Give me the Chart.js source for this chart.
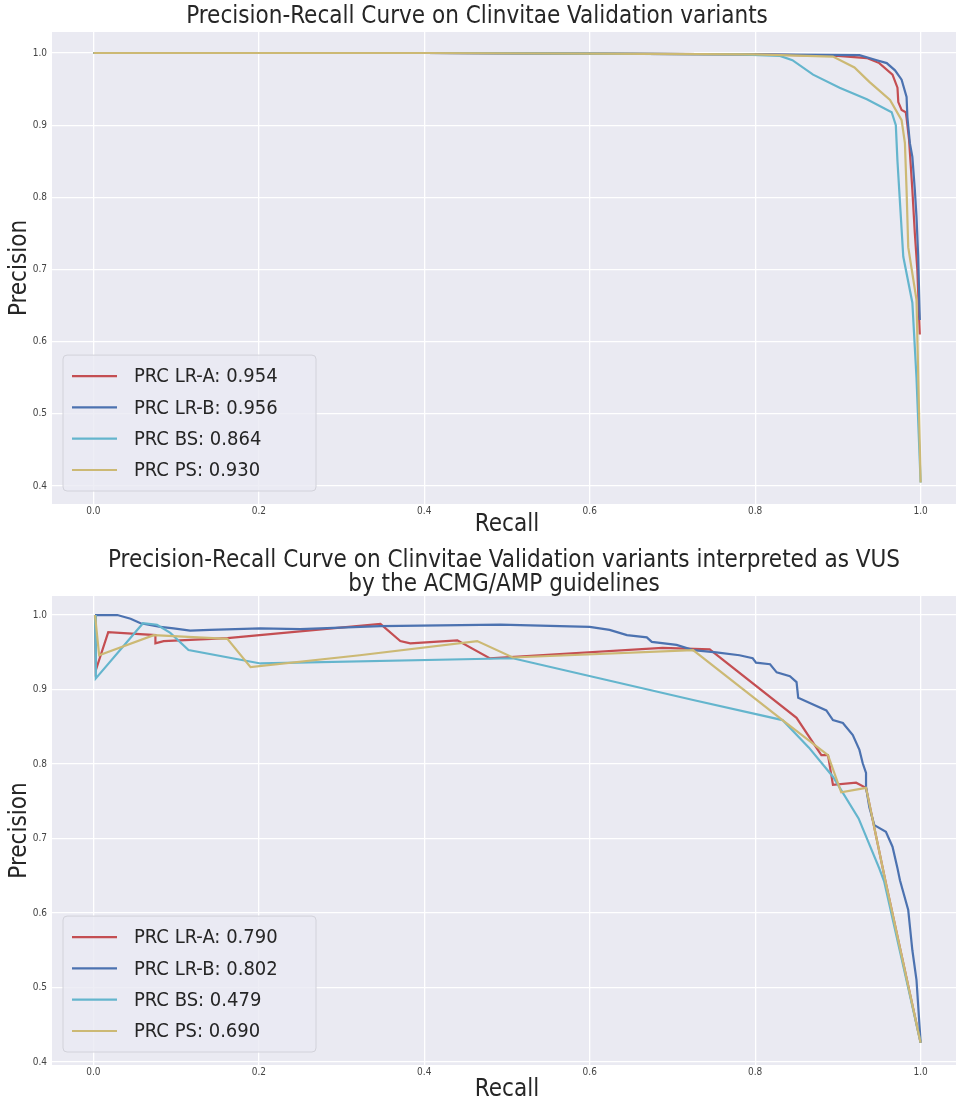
<!DOCTYPE html>
<html><head><meta charset="utf-8">
<script src="https://cdn.jsdelivr.net/npm/chart.js@4.4.0/dist/chart.umd.min.js"></script>
<style>
html,body{margin:0;padding:0;background:#fff;overflow:hidden;width:956px;height:1100px;}
.wrap{position:absolute;left:0;width:962px;}
#w1{top:0;height:537px;}
#w2{top:540px;height:562px;}
</style></head><body>
<div class="wrap" id="w1"><canvas id="c1"></canvas></div>
<div class="wrap" id="w2"><canvas id="c2"></canvas></div>
<script>
// ---------- data ----------
const seriesNames = ['LR-A', 'LR-B', 'BS', 'PS'];
const seriesColors = ['#C44E52', '#4C72B0', '#64B5CD', '#CCB974'];
const topAUC = ['0.954', '0.956', '0.864', '0.930'];
const botAUC = ['0.790', '0.802', '0.479', '0.690'];
const xTickValues = [0.0, 0.2, 0.4, 0.6, 0.8, 1.0];
const yTickValues = [0.4, 0.5, 0.6, 0.7, 0.8, 0.9, 1.0];
const topTitle = 'Precision-Recall Curve on Clinvitae Validation variants';
const botTitle = ['Precision-Recall Curve on Clinvitae Validation variants interpreted as VUS', 'by the ACMG/AMP guidelines'];

// top chart
const topLRA_recall    = [0.0, 0.4, 0.6, 0.8, 0.90, 0.935, 0.950, 0.966, 0.972, 0.973, 0.977, 0.982, 0.983, 0.986, 0.990, 0.993, 0.996, 0.999];
const topLRA_precision = [1.0, 1.0, 0.999, 0.998, 0.996, 0.993, 0.986, 0.970, 0.952, 0.932, 0.921, 0.918, 0.910, 0.880, 0.810, 0.750, 0.700, 0.610];
const topLRB_recall    = [0.0, 0.4, 0.6, 0.8, 0.926, 0.947, 0.959, 0.969, 0.977, 0.983, 0.984, 0.987, 0.990, 0.993, 0.995, 0.997, 0.999];
const topLRB_precision = [1.0, 1.0, 0.999, 0.998, 0.997, 0.990, 0.986, 0.976, 0.963, 0.939, 0.911, 0.875, 0.856, 0.810, 0.773, 0.720, 0.630];
const topBS_recall     = [0.0, 0.4, 0.6, 0.78, 0.83, 0.845, 0.870, 0.902, 0.935, 0.965, 0.970, 0.972, 0.979, 0.990, 0.995, 1.0];
const topBS_precision  = [1.0, 1.0, 0.999, 0.998, 0.996, 0.990, 0.970, 0.952, 0.936, 0.918, 0.900, 0.850, 0.718, 0.654, 0.550, 0.405];
const topPS_recall     = [0.0, 0.4, 0.6, 0.8, 0.894, 0.920, 0.938, 0.963, 0.977, 0.981, 0.983, 0.985, 0.995, 1.0];
const topPS_precision  = [1.0, 1.0, 0.999, 0.998, 0.995, 0.980, 0.960, 0.935, 0.907, 0.875, 0.810, 0.731, 0.658, 0.405];

// bottom chart
const botLRA_recall    = [0.002, 0.003, 0.018, 0.075, 0.075, 0.085, 0.162, 0.347, 0.371, 0.383, 0.440, 0.479, 0.688, 0.745, 0.850, 0.880, 0.888, 0.894, 0.922, 0.934, 0.958, 1.0];
const botLRA_precision = [1.0, 0.926, 0.977, 0.973, 0.962, 0.965, 0.969, 0.988, 0.965, 0.962, 0.966, 0.942, 0.956, 0.954, 0.862, 0.812, 0.812, 0.772, 0.775, 0.768, 0.640, 0.426];
const botLRB_recall    = [0.002, 0.029, 0.045, 0.057, 0.081, 0.097, 0.117, 0.141, 0.202, 0.25, 0.347, 0.492, 0.600, 0.624, 0.645, 0.669, 0.675, 0.705, 0.725, 0.753, 0.781, 0.797, 0.801, 0.818, 0.826, 0.842, 0.850, 0.852, 0.866, 0.886, 0.894, 0.906, 0.918, 0.926, 0.930, 0.934, 0.934, 0.938, 0.944, 0.958, 0.966, 0.972, 0.975, 0.985, 0.990, 0.995, 1.0];
const botLRB_precision = [1.0, 1.0, 0.995, 0.989, 0.984, 0.982, 0.979, 0.980, 0.982, 0.981, 0.985, 0.987, 0.984, 0.980, 0.973, 0.970, 0.964, 0.960, 0.953, 0.950, 0.946, 0.942, 0.936, 0.934, 0.923, 0.918, 0.910, 0.889, 0.882, 0.872, 0.859, 0.855, 0.839, 0.819, 0.801, 0.788, 0.769, 0.742, 0.718, 0.709, 0.689, 0.660, 0.644, 0.604, 0.550, 0.510, 0.426];
const botBS_recall     = [0.002, 0.003, 0.060, 0.077, 0.093, 0.115, 0.202, 0.507, 0.725, 0.833, 0.865, 0.894, 0.925, 0.950, 0.956, 1.0];
const botBS_precision  = [1.0, 0.915, 0.989, 0.987, 0.976, 0.953, 0.935, 0.942, 0.886, 0.859, 0.822, 0.783, 0.727, 0.660, 0.642, 0.426];
const botPS_recall     = [0.002, 0.007, 0.073, 0.162, 0.190, 0.322, 0.464, 0.507, 0.725, 0.833, 0.888, 0.904, 0.934, 0.958, 1.0];
const botPS_precision  = [1.0, 0.946, 0.973, 0.968, 0.930, 0.946, 0.965, 0.943, 0.953, 0.859, 0.812, 0.762, 0.768, 0.640, 0.426];

// ---------- helpers ----------
const FONT = "'DejaVu Sans Condensed', 'DejaVu Sans', sans-serif";
Chart.defaults.font.family = FONT;
function pts(rs, ps) { return rs.map((r, i) => ({x: r, y: ps[i]})); }

const bgPlugin = {
  id: 'bgPlugin',
  beforeDraw(chart) {
    const {ctx, chartArea: a} = chart;
    ctx.save();
    ctx.fillStyle = '#ffffff';
    ctx.fillRect(0, 0, chart.width, chart.height);
    ctx.fillStyle = '#EAEAF2';
    ctx.fillRect(a.left, a.top, a.right - a.left, a.bottom - a.top);
    ctx.restore();
  }
};

const titleShift = {
  id: 'titleShift',
  afterLayout(chart, args, opts) {
    const tb = chart.titleBlock;
    if (!tb || opts.center == null) return;
    const s = opts.center - (tb.left + tb.right) / 2;
    tb.left += s; tb.right += s;
  }
};

const innerLegend = {
  id: 'innerLegend',
  afterDraw(chart) {
    const {ctx, chartArea: a} = chart;
    const ds = chart.data.datasets;
    const rowH = 31.3;
    const left = a.left + 11, w = 253;
    const bottom = a.bottom - 13;
    const h = 42 + (ds.length - 1) * rowH;
    const top = bottom - h;
    ctx.save();
    ctx.beginPath();
    if (ctx.roundRect) ctx.roundRect(left, top, w, h, 4); else ctx.rect(left, top, w, h);
    ctx.fillStyle = 'rgba(234,234,242,0.8)';
    ctx.fill();
    ctx.strokeStyle = '#d2d2da';
    ctx.lineWidth = 1;
    ctx.stroke();
    ds.forEach((d, i) => {
      const y = top + 21 + i * rowH;
      ctx.beginPath();
      ctx.moveTo(left + 9, y);
      ctx.lineTo(left + 54, y);
      ctx.strokeStyle = d.borderColor;
      ctx.lineWidth = 2.2;
      ctx.stroke();
      ctx.fillStyle = '#262626';
      ctx.font = "20px " + FONT;
      ctx.textBaseline = 'middle';
      ctx.textAlign = 'left';
      ctx.fillText(d.label, left + 71, y + 1);
    });
    ctx.restore();
  }
};

function makeChart(id, title, titlePad, titleLH, titleCenter, aucs, series, yMin, yMax, xHeight, tickPad) {
  const datasets = series.map((s, i) => ({
    label: 'PRC ' + seriesNames[i] + ': ' + aucs[i],
    data: pts(s[0], s[1]),
    borderColor: seriesColors[i],
    backgroundColor: seriesColors[i],
    borderWidth: 2.2,
    pointRadius: 0,
    tension: 0,
    fill: false,
    order: series.length - i
  }));
  return new Chart(document.getElementById(id), {
    type: 'line',
    data: {datasets},
    plugins: [bgPlugin, titleShift, innerLegend],
    options: {
      responsive: true,
      maintainAspectRatio: false,
      animation: false,
      devicePixelRatio: 1,
      layout: {padding: 0},
      plugins: {
        legend: {display: false},
        tooltip: {enabled: false},
        titleShift: {center: titleCenter},
        title: {
          display: true,
          text: title,
          color: '#262626',
          font: {size: 24, weight: 'normal', lineHeight: titleLH},
          padding: titlePad
        }
      },
      scales: {
        x: {
          type: 'linear',
          min: -0.05, max: 1.05,
          afterBuildTicks: (sc) => { sc.ticks = xTickValues.map(v => ({value: v})); },
          afterFit: (sc) => { sc.height = xHeight; },
          grid: {color: '#ffffff', lineWidth: 1.3, drawTicks: false},
          border: {display: false},
          ticks: {color: '#444', font: {size: 10}, padding: tickPad, maxRotation: 0, autoSkip: false,
                  callback: (v) => Number(v).toFixed(1)},
          title: {display: true, text: 'Recall', color: '#262626',
                  font: {size: 24, lineHeight: 1}, padding: {top: 0, bottom: 0}}
        },
        y: {
          type: 'linear',
          min: yMin, max: yMax,
          afterBuildTicks: (sc) => { sc.ticks = yTickValues.map(v => ({value: v})); },
          afterFit: (sc) => { sc.width = 52; },
          grid: {color: '#ffffff', lineWidth: 1.3, drawTicks: false},
          border: {display: false},
          ticks: {color: '#444', font: {size: 10}, padding: 5, autoSkip: false,
                  callback: (v) => Number(v).toFixed(1)},
          title: {display: true, text: 'Precision', color: '#262626',
                  font: {size: 24, lineHeight: 1}, padding: {top: 8, bottom: 0}}
        }
      }
    }
  });
}

makeChart('c1', topTitle, {top: 2, bottom: 1.2}, 1.2, 477, topAUC,
  [[topLRA_recall, topLRA_precision], [topLRB_recall, topLRB_precision],
   [topBS_recall, topBS_precision], [topPS_recall, topPS_precision]],
  0.3751, 1.0291, 33, 1);

makeChart('c2', botTitle, {top: 9, bottom: 0}, 0.98, 504, botAUC,
  [[botLRA_recall, botLRA_precision], [botLRB_recall, botLRB_precision],
   [botBS_recall, botBS_precision], [botPS_recall, botPS_precision]],
  0.396, 1.0255, 37, 1);
</script>
</body></html>
